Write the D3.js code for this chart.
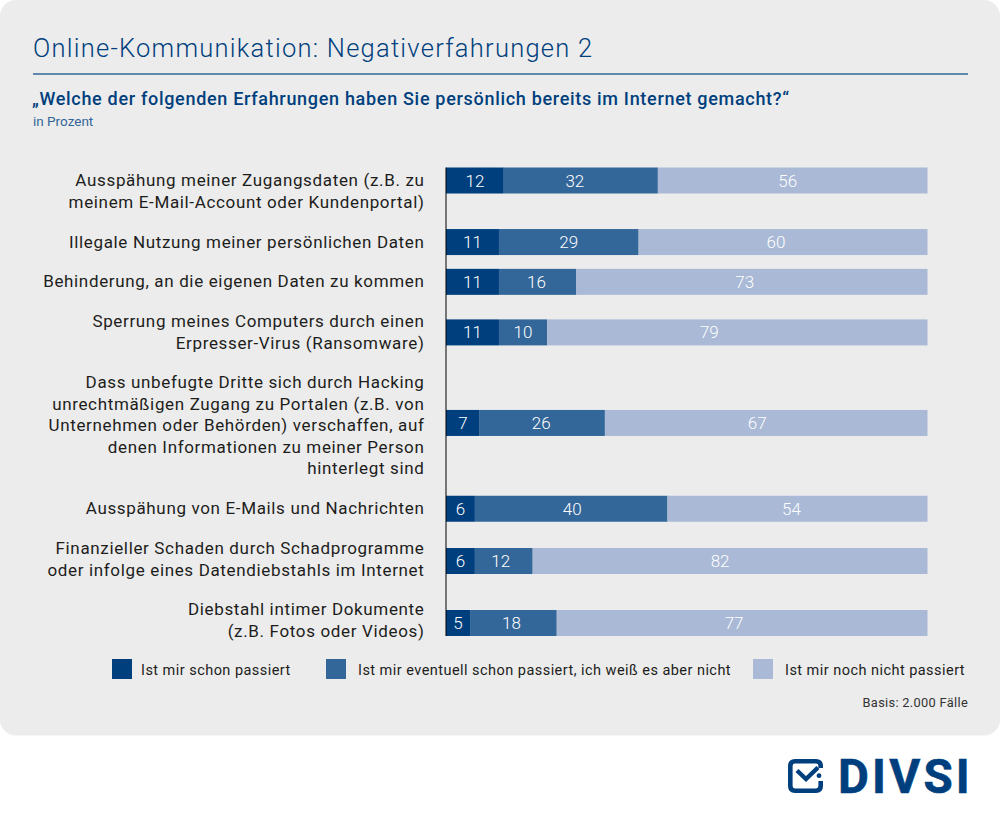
<!DOCTYPE html>
<html>
<head>
<meta charset="utf-8">
<script src="https://cdn.jsdelivr.net/npm/d3@7"></script>
<style>
  html, body { margin: 0; padding: 0; background: #fff; }
  svg { display: block; }
  text { font-family: Roboto, sans-serif; }
</style>
</head>
<body>
<div class="container"></div>
<script>
var categories = [
  ['Ausspähung meiner Zugangsdaten (z.B. zu', 'meinem E-Mail-Account oder Kundenportal)'],
  ['Illegale Nutzung meiner persönlichen Daten'],
  ['Behinderung, an die eigenen Daten zu kommen'],
  ['Sperrung meines Computers durch einen', 'Erpresser-Virus (Ransomware)'],
  ['Dass unbefugte Dritte sich durch Hacking', 'unrechtmäßigen Zugang zu Portalen (z.B. von', 'Unternehmen oder Behörden) verschaffen, auf', 'denen Informationen zu meiner Person', 'hinterlegt sind'],
  ['Ausspähung von E-Mails und Nachrichten'],
  ['Finanzieller Schaden durch Schadprogramme', 'oder infolge eines Datendiebstahls im Internet'],
  ['Diebstahl intimer Dokumente', '(z.B. Fotos oder Videos)']
];
var passiert = [12, 11, 11, 11, 7, 6, 6, 5];
var eventuell = [32, 29, 16, 10, 26, 40, 12, 18];
var nichtPassiert = [56, 60, 73, 79, 67, 54, 82, 77];
var seriesNames = ['Ist mir schon passiert', 'Ist mir eventuell schon passiert, ich weiß es aber nicht', 'Ist mir noch nicht passiert'];
var seriesColors = ['#003f7d', '#336699', '#a9b9d6'];

var w = 1000;
var h = 818;
var blue = '#003f7d';
var textColor = '#1d1d1b';

var svg = d3.select('.container')
  .append('svg')
  .attr('width', w)
  .attr('height', h);

/* ===== PANEL AND HEADINGS ===== */

svg.append('rect')
  .attr('x', 0)
  .attr('y', 0)
  .attr('width', w)
  .attr('height', 735.5)
  .attr('rx', 16)
  .attr('fill', '#ececec');

svg.append('text')
  .text('Online-Kommunikation: Negativerfahrungen 2')
  .attr('x', 33)
  .attr('y', 56.5)
  .attr('font-size', 25.5)
  .attr('font-weight', 300)
  .attr('letter-spacing', 1.25)
  .attr('fill', blue);

svg.append('line')
  .attr('x1', 33).attr('x2', 968)
  .attr('y1', 74).attr('y2', 74)
  .attr('stroke', '#336699')
  .attr('stroke-width', 1.3);

svg.append('text')
  .text('„Welche der folgenden Erfahrungen haben Sie persönlich bereits im Internet gemacht?“')
  .attr('x', 32)
  .attr('y', 105)
  .attr('font-size', 18)
  .attr('font-weight', 500)
  .attr('letter-spacing', 0.69)
  .attr('fill', blue);

svg.append('text')
  .text('in Prozent')
  .attr('x', 33)
  .attr('y', 126)
  .attr('font-size', 13.5)
  .attr('fill', '#336699');

/* ===== SCALES ===== */

var xScale = d3.scaleLinear()
  .domain([0, 100])
  .range([446, 927.5]);

var lineHeight = 21.5;
var rowPadding = 18.3;
var barThickness = 26;
// the bars do not sit exactly in the middle of their label block
var barNudge = [-11, 0, 0, 0, -3, 0, 1.7, 2.4];
// the reference does not centre all value labels in their segment
var labelNudge = [
  [0, -6, -5],
  [0, 0, -7],
  [0, -1, -7],
  [0, 0, -28],
  [0, -1, -9],
  [0, 1, -6],
  [0, -3, -10],
  [0, -2, -8]
];

var centers = [];
categories.forEach(function(lines, i) {
  if (i === 0) {
    centers.push(191.5);
  } else {
    var prev = categories[i - 1].length;
    centers.push(centers[i - 1] + lineHeight * (prev + lines.length) / 2 + rowPadding);
  }
});

var rows = categories.map(function(lines, i) {
  return {
    index: i,
    lines: lines,
    center: centers[i],
    barY: centers[i] + barNudge[i] - barThickness / 2,
    values: [passiert[i], eventuell[i], nichtPassiert[i]]
  };
});

/* ===== BARS ===== */

var group = svg.selectAll('g.row')
  .data(rows)
  .enter()
  .append('g')
  .attr('class', 'row');

group.each(function(d) {
  var g = d3.select(this);
  var start = 0;
  d.values.forEach(function(v, i) {
    g.append('rect')
      .attr('x', xScale(start))
      .attr('y', d.barY)
      .attr('width', xScale(start + v) - xScale(start))
      .attr('height', barThickness)
      .attr('fill', seriesColors[i]);
    g.append('text')
      .text(v)
      .attr('x', xScale(start + v / 2) + labelNudge[d.index][i])
      .attr('y', d.barY + barThickness / 2 + 6)
      .attr('text-anchor', 'middle')
      .attr('font-size', 17)
      .attr('font-weight', 300)
      .attr('fill', '#fff');
    start += v;
  });
  d.lines.forEach(function(line, i) {
    g.append('text')
      .text(line)
      .attr('x', 424.5)
      .attr('y', d.center + (i - (d.lines.length - 1) / 2) * lineHeight + 5.5)
      .attr('text-anchor', 'end')
      .attr('font-size', 17)
      .attr('letter-spacing', 0.65)
      .attr('fill', textColor);
  });
});

svg.append('line')
  .attr('x1', xScale(0)).attr('x2', xScale(0))
  .attr('y1', rows[0].barY)
  .attr('y2', rows[rows.length - 1].barY + barThickness)
  .attr('stroke', '#000')
  .attr('stroke-width', 1);

/* ===== LEGEND ===== */

var legendX = [112, 326, 753];

var legend = svg.selectAll('g.legend')
  .data(seriesNames)
  .enter()
  .append('g')
  .attr('class', 'legend')
  .attr('transform', function(d, i) {
    return 'translate(' + legendX[i] + ',659)';
  });

legend.append('rect')
  .attr('width', 20)
  .attr('height', 20)
  .attr('fill', function(d, i) { return seriesColors[i]; });

legend.append('text')
  .text(function(d) { return d; })
  .attr('x', function(d, i) { return i === 0 ? 29 : 32; })
  .attr('y', 16)
  .attr('font-size', 14.5)
  .attr('letter-spacing', 0.46)
  .attr('fill', textColor);

svg.append('text')
  .text('Basis: 2.000 Fälle')
  .attr('x', 968)
  .attr('y', 707)
  .attr('text-anchor', 'end')
  .attr('font-size', 12.8)
  .attr('letter-spacing', 0.32)
  .attr('fill', '#333');

/* ===== LOGO ===== */

var logo = svg.append('g').attr('transform', 'translate(788,759)');

logo.append('path')
  .attr('d', 'M32.7 9 V7 Q32.7 2.3 28 2.3 H7 Q2.3 2.3 2.3 7 V27 Q2.3 31.7 7 31.7 H28 Q32.7 31.7 32.7 27 V22')
  .attr('fill', 'none')
  .attr('stroke', blue)
  .attr('stroke-width', 4.6);

logo.append('path')
  .attr('d', 'M9 11.5 L18 20 L30 8.5')
  .attr('fill', 'none')
  .attr('stroke', blue)
  .attr('stroke-width', 4.4);

logo.append('circle')
  .attr('cx', 31)
  .attr('cy', 16.7)
  .attr('r', 2.4)
  .attr('fill', blue);

svg.append('text')
  .text('DIVSI')
  .attr('x', 838)
  .attr('y', 793)
  .attr('font-size', 47.5)
  .attr('font-weight', 700)
  .attr('letter-spacing', 3.2)
  .attr('stroke', blue)
  .attr('stroke-width', 0.6)
  .attr('fill', blue);
</script>
</body>
</html>
